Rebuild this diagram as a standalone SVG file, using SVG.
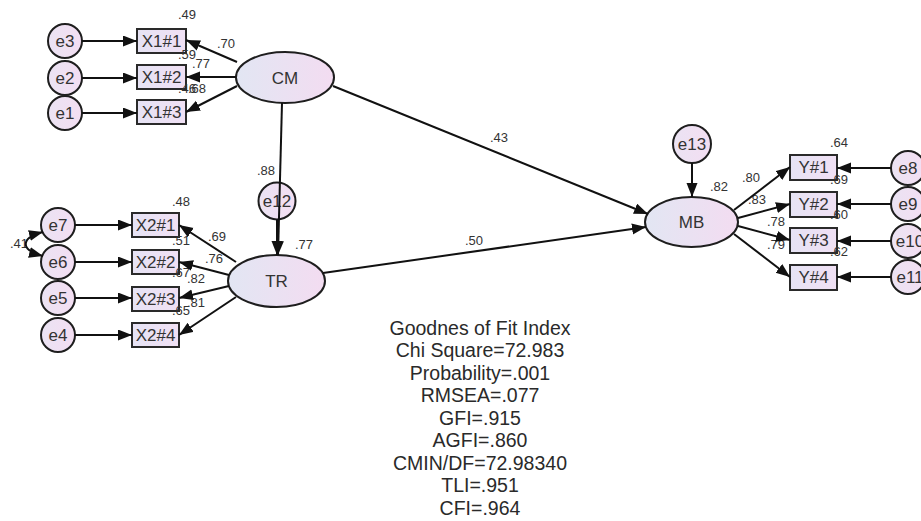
<svg xmlns="http://www.w3.org/2000/svg" width="921" height="521" viewBox="0 0 921 521">
  <defs>
    <linearGradient id="gLatent" x1="0" y1="0" x2="1" y2="0">
      <stop offset="0" stop-color="#e2e6f3"/>
      <stop offset="1" stop-color="#f3dcf1"/>
    </linearGradient>
    <linearGradient id="gBox" x1="0" y1="0" x2="1" y2="0">
      <stop offset="0" stop-color="#e6e3f4"/>
      <stop offset="1" stop-color="#f0e0f4"/>
    </linearGradient>
    <linearGradient id="gErr" x1="0" y1="0" x2="1" y2="0">
      <stop offset="0" stop-color="#ebe3f3"/>
      <stop offset="1" stop-color="#f3def2"/>
    </linearGradient>
    <marker id="arr" markerUnits="userSpaceOnUse" markerWidth="15" markerHeight="12" refX="14" refY="5.5" orient="auto-start-reverse">
      <path d="M0,0 L14,5.5 L0,11 z" fill="#111"/>
    </marker>
  </defs>
  <style>
    .box { fill: url(#gBox); stroke: #2a2a2a; stroke-width: 2; }
    .lat { fill: url(#gLatent); stroke: #1e1e1e; stroke-width: 2; }
    .err { fill: url(#gErr); stroke: #1e1e1e; stroke-width: 2; }
    .nl { font-family: "Liberation Sans", Arial, sans-serif; font-size: 17px; fill: #333; text-anchor: middle; }
    .lab { font-family: "Liberation Sans", Arial, sans-serif; font-size: 13px; fill: #333; }
    .fit { font-family: "Liberation Sans", Arial, sans-serif; font-size: 19.5px; fill: #2a2a2a; text-anchor: middle; }
    .edge { stroke: #111; stroke-width: 2; fill: none; marker-end: url(#arr); }
  </style>

  <rect width="921" height="521" fill="#ffffff"/>

  <!-- error terms -->
  <g id="e3"><circle class="err" cx="65" cy="41" r="17"/><text class="nl" x="65" y="47">e3</text></g>
  <g id="e2"><circle class="err" cx="65" cy="78" r="17"/><text class="nl" x="65" y="84">e2</text></g>
  <g id="e1"><circle class="err" cx="65" cy="113" r="17"/><text class="nl" x="65" y="119">e1</text></g>
  <g id="e7"><circle class="err" cx="58" cy="225" r="17"/><text class="nl" x="58" y="231">e7</text></g>
  <g id="e6"><circle class="err" cx="58" cy="262" r="17"/><text class="nl" x="58" y="268">e6</text></g>
  <g id="e5"><circle class="err" cx="58" cy="298" r="17"/><text class="nl" x="58" y="304">e5</text></g>
  <g id="e4"><circle class="err" cx="58" cy="335" r="17"/><text class="nl" x="58" y="341">e4</text></g>
  <g id="e12"><circle class="err" cx="277" cy="201" r="18.5"/><text class="nl" x="277" y="207">e12</text></g>
  <g id="e13"><circle class="err" cx="692" cy="144" r="19"/><text class="nl" x="692" y="150">e13</text></g>
  <g id="e8"><circle class="err" cx="908" cy="168" r="17"/><text class="nl" x="908" y="174">e8</text></g>
  <g id="e9"><circle class="err" cx="908" cy="204" r="17"/><text class="nl" x="908" y="210">e9</text></g>
  <g id="e10"><circle class="err" cx="908" cy="241" r="17"/><text class="nl" x="910" y="247">e10</text></g>
  <g id="e11"><circle class="err" cx="908" cy="277" r="17"/><text class="nl" x="910" y="283">e11</text></g>

  <!-- observed indicators -->
  <g id="X1_1"><rect class="box" x="137" y="29" width="49" height="24"/><text class="nl" x="161.5" y="47">X1#1</text></g>
  <g id="X1_2"><rect class="box" x="137" y="65" width="49" height="24"/><text class="nl" x="161.5" y="83">X1#2</text></g>
  <g id="X1_3"><rect class="box" x="137" y="100" width="49" height="24"/><text class="nl" x="161.5" y="118">X1#3</text></g>
  <g id="X2_1"><rect class="box" x="132" y="213" width="47" height="24"/><text class="nl" x="155.5" y="231">X2#1</text></g>
  <g id="X2_2"><rect class="box" x="132" y="250" width="47" height="24"/><text class="nl" x="155.5" y="268">X2#2</text></g>
  <g id="X2_3"><rect class="box" x="132" y="287" width="47" height="24"/><text class="nl" x="155.5" y="305">X2#3</text></g>
  <g id="X2_4"><rect class="box" x="132" y="323" width="47" height="24"/><text class="nl" x="155.5" y="341">X2#4</text></g>
  <g id="Y1"><rect class="box" x="790" y="155" width="47" height="25"/><text class="nl" x="813.5" y="173">Y#1</text></g>
  <g id="Y2"><rect class="box" x="790" y="192" width="47" height="25"/><text class="nl" x="813.5" y="210">Y#2</text></g>
  <g id="Y3"><rect class="box" x="790" y="228" width="47" height="25"/><text class="nl" x="813.5" y="246">Y#3</text></g>
  <g id="Y4"><rect class="box" x="790" y="265" width="47" height="25"/><text class="nl" x="813.5" y="283">Y#4</text></g>

  <!-- latent constructs -->
  <g id="CM"><ellipse class="lat" cx="285" cy="77.5" rx="49" ry="25.5"/><text class="nl" x="285" y="84">CM</text></g>
  <g id="TR"><ellipse class="lat" cx="276.5" cy="281" rx="48.5" ry="26"/><text class="nl" x="276.5" y="287">TR</text></g>
  <g id="MB"><ellipse class="lat" cx="691.5" cy="222" rx="46.5" ry="25"/><text class="nl" x="691.5" y="228">MB</text></g>

  <!-- estimates -->
  <g id="estimates" class="lab">
    <text x="178" y="19">.49</text>
    <text x="217" y="48">.70</text>
    <text x="178" y="59">.59</text>
    <text x="192" y="68">.77</text>
    <text x="178" y="93">.46</text>
    <text x="188" y="93">.68</text>
    <text x="257" y="175">.88</text>
    <text x="172" y="206">.48</text>
    <text x="208" y="241">.69</text>
    <text x="172" y="245">.51</text>
    <text x="205" y="263">.76</text>
    <text x="172" y="277">.67</text>
    <text x="187" y="283">.82</text>
    <text x="187" y="307">.81</text>
    <text x="172" y="315">.65</text>
    <text x="295" y="249">.77</text>
    <text x="10" y="248">.41</text>
    <text x="490" y="142">.43</text>
    <text x="465" y="245">.50</text>
    <text x="710" y="191">.82</text>
    <text x="742" y="182">.80</text>
    <text x="748" y="204">.83</text>
    <text x="767" y="226">.78</text>
    <text x="767" y="249">.79</text>
    <text x="830" y="147">.64</text>
    <text x="830" y="184">.69</text>
    <text x="830" y="219">.60</text>
    <text x="830" y="256">.62</text>
  </g>

  <!-- paths -->
  <g id="connectors">
    <line class="edge" x1="82" y1="41" x2="137" y2="41"/>
    <line class="edge" x1="82" y1="78" x2="137" y2="78"/>
    <line class="edge" x1="82" y1="113" x2="137" y2="113"/>
    <line class="edge" x1="237" y1="62" x2="186" y2="40"/>
    <line class="edge" x1="236" y1="77" x2="186" y2="77"/>
    <line class="edge" x1="237" y1="86" x2="186" y2="112"/>
    <line class="edge" x1="75" y1="225" x2="132" y2="225"/>
    <line class="edge" x1="75" y1="262" x2="132" y2="262"/>
    <line class="edge" x1="75" y1="298" x2="132" y2="298"/>
    <line class="edge" x1="75" y1="335" x2="132" y2="335"/>
    <path class="edge" d="M43,232 C20,238 20,250 43,256" style="marker-start: url(#arr)"/>
    <line class="edge" x1="236" y1="262" x2="179" y2="225"/>
    <line class="edge" x1="229" y1="275" x2="179" y2="262"/>
    <line class="edge" x1="229" y1="286" x2="179" y2="298"/>
    <line class="edge" x1="236" y1="297" x2="179" y2="335"/>
    <line class="edge" x1="282" y1="103" x2="278" y2="255"/>
    <line class="edge" x1="277" y1="219.5" x2="277" y2="255"/>
    <line class="edge" x1="333" y1="86" x2="648" y2="214"/>
    <line class="edge" x1="323" y1="273" x2="646" y2="227"/>
    <line class="edge" x1="692" y1="163" x2="692" y2="197"/>
    <line class="edge" x1="734" y1="210" x2="790" y2="167"/>
    <line class="edge" x1="738" y1="218" x2="790" y2="204"/>
    <line class="edge" x1="738" y1="226" x2="790" y2="240"/>
    <line class="edge" x1="734" y1="234" x2="790" y2="277"/>
    <line class="edge" x1="891" y1="168" x2="837" y2="168"/>
    <line class="edge" x1="891" y1="204" x2="837" y2="204"/>
    <line class="edge" x1="891" y1="241" x2="837" y2="241"/>
    <line class="edge" x1="891" y1="277" x2="837" y2="277"/>
  </g>

  <!-- model fit summary -->
  <g id="fit-summary" class="fit">
    <text x="480" y="334.5">Goodnes of Fit Index</text>
    <text x="480" y="357">Chi Square=72.983</text>
    <text x="480" y="379.5">Probability=.001</text>
    <text x="480" y="402">RMSEA=.077</text>
    <text x="480" y="424.5">GFI=.915</text>
    <text x="480" y="447">AGFI=.860</text>
    <text x="480" y="469.5">CMIN/DF=72.98340</text>
    <text x="480" y="492">TLI=.951</text>
    <text x="480" y="514.5">CFI=.964</text>
  </g>
</svg>
